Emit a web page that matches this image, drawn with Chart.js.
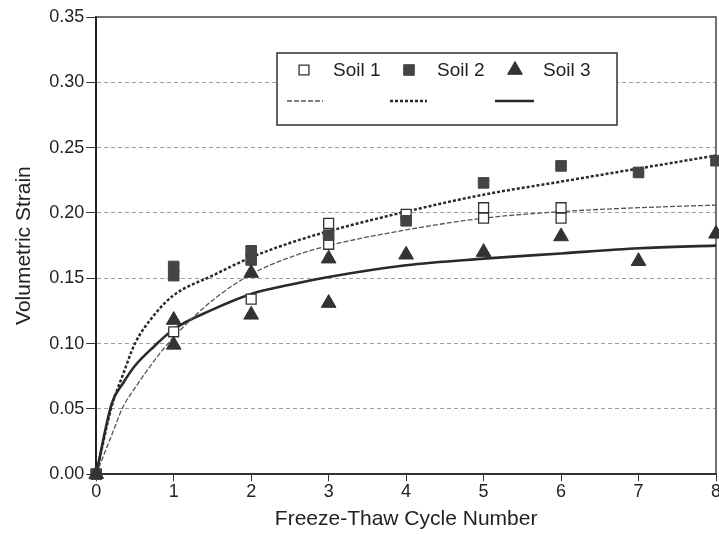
<!DOCTYPE html>
<html>
<head>
<meta charset="utf-8">
<script src="https://cdn.jsdelivr.net/npm/chart.js@4"></script>
<style>
    html, body { margin: 0; padding: 0; background: #fff; }
</style>
</head>
<body>
<canvas id="volumetric_strain" width="719" height="534"></canvas>
<script>
// measured points (freeze-thaw cycle, volumetric strain)
const soil1Cycles = [0, 1, 2, 3, 3, 4, 5, 5, 6, 6];
const soil1Strain = [0, 0.109, 0.134, 0.192, 0.176, 0.199, 0.204, 0.196, 0.204, 0.196];
const soil2Cycles = [0, 1, 1, 2, 2, 3, 4, 5, 6, 7, 8];
const soil2Strain = [0, 0.159, 0.152, 0.171, 0.164, 0.183, 0.194, 0.223, 0.236, 0.231, 0.240];
const soil3Cycles = [0, 1, 1, 2, 2, 3, 3, 4, 5, 6, 7, 8];
const soil3Strain = [0, 0.118, 0.099, 0.154, 0.122, 0.165, 0.131, 0.168, 0.170, 0.182, 0.163, 0.184];

// fitted curves
const fitCycles = [0, 0.2, 0.35, 0.5, 0.75, 1, 1.5, 2, 2.5, 3, 4, 5, 6, 7, 8];
const soil1Fit = [0, 0.030, 0.052, 0.066, 0.087, 0.105, 0.133, 0.153, 0.166, 0.175, 0.187, 0.196, 0.201, 0.204, 0.206];
const soil2Fit = [0, 0.052, 0.077, 0.100, 0.122, 0.137, 0.152, 0.166, 0.177, 0.186, 0.201, 0.214, 0.224, 0.234, 0.244];
const soil3Fit = [0, 0.054, 0.070, 0.083, 0.098, 0.111, 0.126, 0.138, 0.145, 0.151, 0.160, 0.165, 0.169, 0.173, 0.175];

const legendLabels = ['Soil 1', 'Soil 2', 'Soil 3'];

const toPoints = (xs, ys) => xs.map((x, i) => ({x: x, y: ys[i]}));
const FONT = '"Liberation Sans", Arial, sans-serif';

// frame on top/right of the plot
const frame = {
    id: 'frame',
    beforeDatasetsDraw(chart) {
        const a = chart.chartArea;
        const ctx = chart.ctx;
        ctx.save();
        ctx.strokeStyle = '#444';
        ctx.lineWidth = 1.5;
        ctx.beginPath();
        ctx.moveTo(a.left, a.top);
        ctx.lineTo(a.right, a.top);
        ctx.lineTo(a.right, a.bottom);
        ctx.stroke();
        ctx.restore();
    }
};

// boxed two-row legend inside the plot
const legendBox = {
    id: 'legendBox',
    afterDatasetsDraw(chart) {
        const ctx = chart.ctx;
        const markX = [304, 409, 515];
        const textX = [333, 437, 543];
        const lineX = [[287, 323], [390, 427], [495, 534]];
        ctx.save();
        ctx.fillStyle = '#fff';
        ctx.fillRect(277, 53, 340, 72);
        ctx.strokeStyle = '#333';
        ctx.lineWidth = 1.5;
        ctx.strokeRect(277, 53, 340, 72);
        ctx.font = '19px ' + FONT;
        ctx.textBaseline = 'middle';
        for (let i = 0; i < 3; i++) {
            const pts = chart.data.datasets[i];
            ctx.save();
            ctx.fillStyle = pts.backgroundColor;
            ctx.strokeStyle = pts.borderColor;
            ctx.lineWidth = pts.borderWidth;
            Chart.helpers.drawPoint(ctx, {pointStyle: pts.pointStyle, radius: pts.pointRadius, borderWidth: pts.borderWidth}, markX[i], 70);
            ctx.restore();
            ctx.fillStyle = '#222';
            ctx.fillText(legendLabels[i], textX[i], 71);

            const fit = chart.data.datasets[i + 3];
            ctx.save();
            ctx.strokeStyle = fit.borderColor;
            ctx.lineWidth = fit.borderWidth;
            ctx.setLineDash(fit.borderDash || []);
            ctx.beginPath();
            ctx.moveTo(lineX[i][0], 101);
            ctx.lineTo(lineX[i][1], 101);
            ctx.stroke();
            ctx.restore();
        }
        ctx.restore();
    }
};

const ctx = document.getElementById('volumetric_strain').getContext('2d');
const strainChart = new Chart(ctx, {
    type: 'scatter',
    data: {
        datasets: [
            {
                label: 'Soil 1',
                data: toPoints(soil1Cycles, soil1Strain),
                pointStyle: 'rect',
                pointRadius: 7,
                backgroundColor: '#fff',
                borderColor: '#333',
                borderWidth: 1.3,
                clip: false,
                order: 2
            },
            {
                label: 'Soil 2',
                data: toPoints(soil2Cycles, soil2Strain),
                pointStyle: 'rect',
                pointRadius: 7.5,
                backgroundColor: '#444',
                borderColor: '#444',
                borderWidth: 1,
                clip: false,
                order: 1
            },
            {
                label: 'Soil 3',
                data: toPoints(soil3Cycles, soil3Strain),
                pointStyle: 'triangle',
                pointRadius: 8.5,
                backgroundColor: '#333',
                borderColor: '#333',
                borderWidth: 1,
                clip: false,
                order: 0
            },
            {
                type: 'line',
                label: 'Soil 1 fit',
                data: toPoints(fitCycles, soil1Fit),
                borderColor: '#555',
                borderWidth: 1.3,
                borderDash: [5, 2],
                pointRadius: 0,
                cubicInterpolationMode: 'monotone',
                order: 3
            },
            {
                type: 'line',
                label: 'Soil 2 fit',
                data: toPoints(fitCycles, soil2Fit),
                borderColor: '#2a2a2a',
                borderWidth: 2.5,
                borderDash: [3, 2],
                pointRadius: 0,
                cubicInterpolationMode: 'monotone',
                order: 3
            },
            {
                type: 'line',
                label: 'Soil 3 fit',
                data: toPoints(fitCycles, soil3Fit),
                borderColor: '#2a2a2a',
                borderWidth: 2.6,
                pointRadius: 0,
                cubicInterpolationMode: 'monotone',
                order: 3
            }
        ]
    },
    options: {
        responsive: false,
        animation: false,
        layout: { autoPadding: false, padding: { left: 12, right: 3, top: 17, bottom: 2 } },
        plugins: {
            legend: { display: false },
            tooltip: { enabled: false }
        },
        scales: {
            x: {
                type: 'linear',
                min: 0,
                max: 8,
                afterFit: s => { s.paddingRight = 0; },
                ticks: { stepSize: 1, color: '#222', font: { family: FONT, size: 18 }, padding: 0 },
                grid: { drawOnChartArea: false, drawTicks: true, tickLength: 7, tickColor: '#333' },
                border: { color: '#333', width: 2 },
                title: {
                    display: true,
                    text: 'Freeze-Thaw Cycle Number',
                    color: '#222',
                    font: { family: FONT, size: 21 },
                    padding: { top: 4, bottom: 0 }
                }
            },
            y: {
                min: 0,
                max: 0.35,
                ticks: {
                    stepSize: 0.05,
                    color: '#222',
                    font: { family: FONT, size: 18 },
                    padding: 2,
                    callback: v => v.toFixed(2)
                },
                grid: {
                    color: c => (c.tick && c.tick.value > 0.001 && c.tick.value < 0.349) ? '#a0a0a0' : 'rgba(0,0,0,0)',
                    lineWidth: 1,
                    tickLength: 10,
                    tickColor: '#333'
                },
                border: { color: '#222', width: 2, dash: [4, 3] },
                title: {
                    display: true,
                    text: 'Volumetric Strain',
                    color: '#222',
                    font: { family: FONT, size: 21 },
                    padding: { top: 0, bottom: 10 }
                }
            }
        }
    },
    plugins: [frame, legendBox]
});
</script>
</body>
</html>
